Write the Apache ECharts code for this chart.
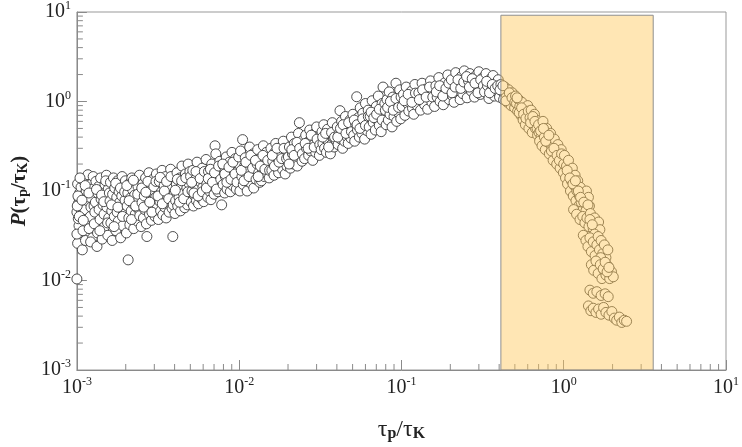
<!DOCTYPE html>
<html>
<head>
<meta charset="UTF-8" />
<title>P(tau_p/tau_K)</title>
<script src="https://cdn.jsdelivr.net/npm/echarts@6/dist/echarts.min.js"></script>
<style>
  body { margin: 0; background: #fff; }
  #main { width: 742px; height: 447px; }
</style>
</head>
<body>
<div id="main"></div>
<script>
// axis decades (log scale)
const xTicks = [1e-3, 1e-2, 1e-1, 1, 10];
const yTicks = [1e-3, 1e-2, 1e-1, 1, 10];
// shaded band: tau_p/tau_K range and its top
const shadeX = [0.41, 3.56];
const shadeY = [1e-3, 9.2];

// [tau_p/tau_K, P], left part of the cloud (tau_p/tau_K < 1e-2)
const samplesLow = [
  [1.00e-3,0.0104],[1.01e-3,0.026],[1.03e-3,0.041],[1.00e-3,0.058],[1.02e-3,0.072],[1.04e-3,0.095],[1.01e-3,0.12],[1.00e-3,0.033],[1.02e-3,0.049],[1.05e-3,0.064],[1.03e-3,0.083],[1.06e-3,0.11],
  [1.08e-3,0.022],[1.09e-3,0.036],[1.07e-3,0.054],[1.11e-3,0.07],[1.1e-3,0.09],[1.08e-3,0.135],[1.13e-3,0.028],[1.15e-3,0.045],[1.12e-3,0.062],[1.16e-3,0.078],[1.14e-3,0.1],[1.17e-3,0.152],
  [1.19e-3,0.038],[1.21e-3,0.052],[1.2e-3,0.085],[1.23e-3,0.12],[1.22e-3,0.066],[1.25e-3,0.03],[1.24e-3,0.105],[1.26e-3,0.145],
  [1.005e-3,0.068],[1.015e-3,0.088],[1.035e-3,0.052],[1.045e-3,0.14],[1.075e-3,0.079],[1.095e-3,0.047],[1.125e-3,0.115],[1.185e-3,0.095],[1.215e-3,0.027],[1.275e-3,0.068],
  [1.28e-3,0.043],[1.3e-3,0.075],[1.29e-3,0.058],[1.31e-3,0.128],[1.33e-3,0.024],[1.35e-3,0.094],[1.34e-3,0.034],[1.37e-3,0.062],[1.36e-3,0.112],[1.39e-3,0.048],[1.41e-3,0.081],[1.4e-3,0.14],
  [1.43e-3,0.029],[1.45e-3,0.07],[1.44e-3,0.098],[1.47e-3,0.055],[1.49e-3,0.118],[1.48e-3,0.04],[1.51e-3,0.086],[1.53e-3,0.066],[1.52e-3,0.15],[1.55e-3,0.032],[1.56e-3,0.105],[1.57e-3,0.05],
  [1.32e-3,0.104],[1.385e-3,0.036],[1.42e-3,0.09],[1.465e-3,0.076],[1.505e-3,0.13],[1.545e-3,0.044],[1.585e-3,0.095],
  [1.6e-3,0.077],[1.62e-3,0.044],[1.61e-3,0.125],[1.64e-3,0.06],[1.66e-3,0.092],[1.65e-3,0.028],[1.68e-3,0.14],[1.7e-3,0.052],[1.72e-3,0.07],[1.71e-3,0.108],[1.74e-3,0.036],[1.76e-3,0.085],
  [1.78e-3,0.13],[1.77e-3,0.058],[1.8e-3,0.046],[1.82e-3,0.098],[1.84e-3,0.075],[1.83e-3,0.118],[1.86e-3,0.03],[1.88e-3,0.064],[1.9e-3,0.145],[1.89e-3,0.088],[1.92e-3,0.041],[1.94e-3,0.11],
  [1.96e-3,0.055],[1.98e-3,0.079],[1.99e-3,0.13],
  [1.635e-3,0.07],[1.695e-3,0.04],[1.735e-3,0.122],[1.79e-3,0.066],[1.855e-3,0.108],[1.91e-3,0.052],[1.97e-3,0.098],
  [2.02e-3,0.034],[2.04e-3,0.068],[2.07e-3,0.017],[2.06e-3,0.095],[2.09e-3,0.05],[2.11e-3,0.122],[2.13e-3,0.083],[2.12e-3,0.042],[2.16e-3,0.06],[2.18e-3,0.14],[2.2e-3,0.104],[2.22e-3,0.072],
  [2.24e-3,0.038],[2.27e-3,0.09],[2.29e-3,0.055],[2.31e-3,0.128],[2.33e-3,0.066],[2.36e-3,0.046],[2.38e-3,0.112],[2.4e-3,0.08],[2.43e-3,0.15],[2.45e-3,0.058],[2.47e-3,0.097],[2.49e-3,0.04],
  [2.03e-3,0.115],[2.1e-3,0.078],[2.17e-3,0.048],[2.23e-3,0.132],[2.3e-3,0.068],[2.37e-3,0.092],[2.44e-3,0.053],
  [2.52e-3,0.074],[2.55e-3,0.12],[2.57e-3,0.05],[2.6e-3,0.088],[2.62e-3,0.062],[2.65e-3,0.14],[2.68e-3,0.043],[2.7e-3,0.031],[2.72e-3,0.105],[2.75e-3,0.07],[2.78e-3,0.16],[2.8e-3,0.055],
  [2.83e-3,0.092],[2.86e-3,0.118],[2.88e-3,0.047],[2.91e-3,0.078],[2.94e-3,0.135],[2.97e-3,0.063],[3.0e-3,0.1],[3.03e-3,0.052],[3.06e-3,0.085],[3.09e-3,0.155],[3.12e-3,0.07],[3.15e-3,0.112],
  [2.51e-3,0.108],[2.58e-3,0.066],[2.66e-3,0.097],[2.74e-3,0.128],[2.81e-3,0.075],[2.9e-3,0.058],[2.98e-3,0.112],[3.07e-3,0.128],
  [3.18e-3,0.048],[3.22e-3,0.128],[3.25e-3,0.076],[3.28e-3,0.06],[3.32e-3,0.098],[3.35e-3,0.17],[3.38e-3,0.054],[3.42e-3,0.084],[3.45e-3,0.115],[3.48e-3,0.066],[3.52e-3,0.145],[3.55e-3,0.05],
  [3.58e-3,0.09],[3.62e-3,0.072],[3.66e-3,0.125],[3.7e-3,0.058],[3.74e-3,0.105],[3.78e-3,0.175],[3.82e-3,0.08],[3.86e-3,0.064],[3.9e-3,0.031],[3.93e-3,0.138],[3.97e-3,0.095],
  [3.16e-3,0.088],[3.26e-3,0.142],[3.36e-3,0.072],[3.46e-3,0.1],[3.57e-3,0.128],[3.68e-3,0.082],[3.8e-3,0.145],[3.92e-3,0.07],
  [4.02e-3,0.056],[4.06e-3,0.078],[4.1e-3,0.118],[4.14e-3,0.16],[4.18e-3,0.068],[4.22e-3,0.1],[4.26e-3,0.085],[4.31e-3,0.14],[4.35e-3,0.06],[4.4e-3,0.112],[4.44e-3,0.19],[4.48e-3,0.074],
  [4.53e-3,0.094],[4.57e-3,0.13],[4.62e-3,0.065],[4.66e-3,0.155],[4.71e-3,0.082],[4.76e-3,0.108],[4.8e-3,0.07],[4.85e-3,0.2],[4.9e-3,0.122],[4.95e-3,0.09],
  [4.04e-3,0.102],[4.16e-3,0.135],[4.29e-3,0.075],[4.42e-3,0.13],[4.55e-3,0.082],[4.69e-3,0.14],[4.83e-3,0.098],[4.97e-3,0.165],
  [5.02e-3,0.145],[5.07e-3,0.075],[5.12e-3,0.1],[5.18e-3,0.17],[5.23e-3,0.068],[5.28e-3,0.118],[5.33e-3,0.088],[5.39e-3,0.135],[5.45e-3,0.078],[5.5e-3,0.21],[5.56e-3,0.104],[5.62e-3,0.072],
  [5.68e-3,0.158],[5.73e-3,0.092],[5.8e-3,0.125],[5.86e-3,0.082],[5.92e-3,0.18],[5.98e-3,0.11],[6.05e-3,0.076],[6.12e-3,0.145],[6.18e-3,0.095],[6.25e-3,0.225],
  [5.1e-3,0.125],[5.26e-3,0.095],[5.42e-3,0.165],[5.58e-3,0.088],[5.75e-3,0.138],[5.93e-3,0.098],[6.1e-3,0.165],
  [6.32e-3,0.12],[6.4e-3,0.085],[6.47e-3,0.165],[6.55e-3,0.1],[6.62e-3,0.135],[6.7e-3,0.08],[6.78e-3,0.2],[6.85e-3,0.112],[6.92e-3,0.15],[7.0e-3,0.092],[7.1e-3,0.32],[7.18e-3,0.26],
  [7.26e-3,0.125],[7.34e-3,0.175],[7.42e-3,0.098],[7.5e-3,0.14],[7.6e-3,0.215],[7.7e-3,0.108],[7.8e-3,0.07],[7.88e-3,0.16],
  [6.28e-3,0.108],[6.45e-3,0.138],[6.65e-3,0.175],[6.85e-3,0.125],[7.05e-3,0.16],[7.25e-3,0.105],[7.47e-3,0.19],[7.7e-3,0.135],
  [7.96e-3,0.118],[8.05e-3,0.19],[8.14e-3,0.095],[8.23e-3,0.145],[8.32e-3,0.24],[8.42e-3,0.105],[8.52e-3,0.17],[8.62e-3,0.128],[8.72e-3,0.21],[8.82e-3,0.098],[8.92e-3,0.155],[9.03e-3,0.27],
  [9.14e-3,0.115],[9.25e-3,0.185],[9.36e-3,0.135],[9.48e-3,0.23],[9.6e-3,0.105],[9.72e-3,0.165],[9.85e-3,0.125],[9.96e-3,0.2],
  [7.92e-3,0.2],[8.15e-3,0.155],[8.4e-3,0.125],[8.65e-3,0.185],[8.9e-3,0.135],[9.15e-3,0.21],[9.42e-3,0.155],[9.7e-3,0.125],[9.93e-3,0.24]
];

// middle part of the cloud (1e-2 to 0.4)
const samplesMid = [
  [1.01e-2,0.1],[1.02e-2,0.28],[1.04e-2,0.145],[1.05e-2,0.375],[1.06e-2,0.118],[1.08e-2,0.19],[1.09e-2,0.235],[1.11e-2,0.13],[1.12e-2,0.1],[1.14e-2,0.165],[1.16e-2,0.31],[1.17e-2,0.21],
  [1.19e-2,0.12],[1.2e-2,0.15],[1.22e-2,0.26],[1.23e-2,0.108],[1.25e-2,0.18],
  [1.03e-2,0.17],[1.07e-2,0.13],[1.1e-2,0.21],[1.15e-2,0.145],[1.18e-2,0.25],[1.21e-2,0.18],
  [1.27e-2,0.135],[1.29e-2,0.2],[1.3e-2,0.29],[1.32e-2,0.16],[1.34e-2,0.125],[1.36e-2,0.235],[1.37e-2,0.13],[1.39e-2,0.175],[1.41e-2,0.32],[1.43e-2,0.145],[1.45e-2,0.21],[1.47e-2,0.27],
  [1.49e-2,0.155],[1.51e-2,0.19],[1.53e-2,0.14],[1.55e-2,0.24],[1.57e-2,0.3],
  [1.26e-2,0.22],[1.31e-2,0.145],[1.35e-2,0.19],[1.4e-2,0.25],[1.44e-2,0.175],[1.5e-2,0.22],[1.54e-2,0.17],
  [1.59e-2,0.17],[1.61e-2,0.215],[1.64e-2,0.15],[1.66e-2,0.27],[1.68e-2,0.34],[1.7e-2,0.185],[1.73e-2,0.235],[1.75e-2,0.16],[1.77e-2,0.3],[1.8e-2,0.205],[1.82e-2,0.255],[1.85e-2,0.175],
  [1.87e-2,0.36],[1.9e-2,0.22],[1.92e-2,0.155],[1.95e-2,0.28],[1.97e-2,0.19],
  [1.6e-2,0.25],[1.65e-2,0.19],[1.71e-2,0.3],[1.76e-2,0.21],[1.83e-2,0.23],[1.89e-2,0.3],[1.96e-2,0.23],
  [2.01e-2,0.24],[2.04e-2,0.31],[2.07e-2,0.18],[2.1e-2,0.4],[2.13e-2,0.26],[2.16e-2,0.2],[2.19e-2,0.34],[2.22e-2,0.225],[2.25e-2,0.29],[2.28e-2,0.19],[2.32e-2,0.44],[2.35e-2,0.58],
  [2.38e-2,0.25],[2.41e-2,0.32],[2.44e-2,0.215],[2.47e-2,0.37],[2.5e-2,0.27],
  [2.03e-2,0.2],[2.11e-2,0.29],[2.18e-2,0.25],[2.27e-2,0.35],[2.36e-2,0.3],[2.45e-2,0.26],
  [2.53e-2,0.23],[2.57e-2,0.42],[2.6e-2,0.3],[2.64e-2,0.35],[2.68e-2,0.25],[2.72e-2,0.48],[2.76e-2,0.28],[2.8e-2,0.38],[2.84e-2,0.22],[2.88e-2,0.33],[2.92e-2,0.44],[2.96e-2,0.27],
  [3.0e-2,0.52],[3.04e-2,0.31],[3.08e-2,0.36],[3.12e-2,0.25],[3.15e-2,0.41],
  [2.55e-2,0.34],[2.66e-2,0.3],[2.78e-2,0.42],[2.9e-2,0.31],[3.02e-2,0.38],[3.14e-2,0.33],
  [3.2e-2,0.29],[3.24e-2,0.46],[3.28e-2,0.34],[3.32e-2,0.55],[3.36e-2,0.3],[3.4e-2,0.39],[3.45e-2,0.27],[3.5e-2,0.49],[3.55e-2,0.36],[3.6e-2,0.43],[3.65e-2,0.26],[3.7e-2,0.33],
  [3.75e-2,0.58],[3.8e-2,0.4],[3.85e-2,0.31],[3.9e-2,0.47],[3.95e-2,0.37],
  [3.27e-2,0.4],[3.41e-2,0.44],[3.56e-2,0.31],[3.71e-2,0.45],[3.87e-2,0.4],
  [4.02e-2,0.52],[4.07e-2,0.33],[4.12e-2,0.43],[4.18e-2,0.79],[4.23e-2,0.38],[4.28e-2,0.6],[4.34e-2,0.3],[4.4e-2,0.47],[4.46e-2,0.36],[4.52e-2,0.68],[4.58e-2,0.41],[4.64e-2,0.54],
  [4.7e-2,0.34],[4.76e-2,0.45],[4.82e-2,0.62],[4.88e-2,0.39],[4.95e-2,0.5],
  [4.05e-2,0.4],[4.21e-2,0.5],[4.37e-2,0.55],[4.55e-2,0.44],[4.73e-2,0.58],[4.92e-2,0.46],
  [5.02e-2,0.72],[5.08e-2,0.42],[5.15e-2,0.36],[5.22e-2,0.56],[5.3e-2,1.13],[5.36e-2,0.48],[5.43e-2,0.66],[5.5e-2,0.4],[5.57e-2,0.85],[5.64e-2,0.53],[5.71e-2,0.44],[5.78e-2,0.74],
  [5.86e-2,0.58],[5.93e-2,0.38],[6.0e-2,0.95],[6.08e-2,0.62],[6.16e-2,0.47],[6.24e-2,0.8],
  [5.12e-2,0.62],[5.33e-2,0.55],[5.55e-2,0.5],[5.77e-2,0.64],[6.0e-2,0.54],[6.25e-2,0.68],
  [6.33e-2,0.52],[6.42e-2,0.68],[6.5e-2,0.43],[6.6e-2,1.02],[6.7e-2,0.58],[6.8e-2,0.76],[6.9e-2,0.48],[7.0e-2,0.88],[7.1e-2,0.62],[7.2e-2,1.15],[7.3e-2,0.54],[7.4e-2,0.7],
  [7.5e-2,0.46],[7.6e-2,0.95],[7.7e-2,1.45],[7.8e-2,0.66],
  [6.5e-2,0.76],[6.76e-2,0.66],[7.03e-2,0.72],[7.31e-2,0.82],[7.6e-2,0.62],[7.9e-2,0.95],
  [7.95e-2,0.8],[8.05e-2,0.55],[8.15e-2,1.05],[8.3e-2,0.62],[8.4e-2,1.28],[8.5e-2,0.72],[8.6e-2,0.9],[8.75e-2,0.52],[8.85e-2,1.12],[9.0e-2,0.68],[9.1e-2,0.84],[9.25e-2,1.6],
  [9.35e-2,0.6],[9.5e-2,0.98],[9.6e-2,0.75],[9.75e-2,1.35],[9.9e-2,0.64],
  [8.22e-2,0.86],[8.55e-2,1.0],[8.9e-2,0.8],[9.25e-2,1.08],[9.6e-2,0.86],[9.95e-2,1.12],
  [0.101,0.88],[0.103,1.2],[0.105,0.7],[0.107,1.45],[0.109,0.95],[0.111,0.78],[0.113,1.1],[0.115,1.3],[0.117,0.84],[0.119,0.72],[0.121,1.55],[0.123,1.02],[0.125,0.9],
  [0.104,1.02],[0.11,1.2],[0.116,0.98],[0.122,1.24],
  [0.128,1.25],[0.131,0.8],[0.134,1.6],[0.136,1.08],[0.139,0.92],[0.142,1.38],[0.145,0.82],[0.148,1.18],[0.151,1.7],[0.154,0.98],[0.157,1.3],
  [0.129,1.05],[0.135,1.35],[0.142,1.12],[0.149,1.45],[0.156,1.12],
  [0.16,0.88],[0.163,1.5],[0.166,1.12],[0.17,1.85],[0.173,1.0],[0.177,1.3],[0.181,0.92],[0.185,1.62],[0.189,1.18],[0.193,1.98],[0.197,1.05],[0.2,1.4],
  [0.164,1.28],[0.172,1.5],[0.18,1.15],[0.188,1.4],[0.196,1.6],
  [0.203,1.75],[0.207,1.15],[0.211,0.98],[0.216,2.1],[0.22,1.32],[0.225,1.55],[0.23,1.05],[0.234,1.9],[0.239,1.22],[0.244,2.2],[0.249,1.45],
  [0.205,1.25],[0.214,1.45],[0.223,1.75],[0.232,1.4],[0.242,1.65],
  [0.254,1.1],[0.259,1.7],[0.264,2.05],[0.27,1.3],[0.276,1.55],[0.282,1.12],[0.288,1.95],[0.294,1.4],[0.3,2.15],[0.306,1.2],[0.312,1.65],[0.318,1.85],
  [0.252,1.9],[0.262,1.45],[0.273,1.8],[0.284,1.6],[0.296,1.25],[0.308,1.75],[0.32,1.5],
  [0.325,1.28],[0.332,2.05],[0.339,1.5],[0.346,1.08],[0.353,1.78],[0.36,1.35],[0.367,1.95],[0.374,1.15],[0.381,1.6],[0.388,1.3],[0.395,1.75],
  [0.335,1.68],[0.349,1.25],[0.363,1.55],[0.378,1.4],[0.392,1.5]
];

// fall-off inside the shaded band (tau_p/tau_K > 0.4)
const samplesHigh = [
  [0.402,1.12],[0.41,1.55],[0.418,1.3],[0.426,1.05],[0.434,1.45],[0.442,1.2],[0.45,0.98],[0.458,1.35],[0.466,1.1],[0.474,0.9],[0.482,1.25],[0.49,1.02],[0.498,0.85],
  [0.405,1.35],[0.422,1.5],[0.44,1.02],[0.462,1.25],[0.48,1.1],[0.5,0.98],
  [0.505,1.15],[0.512,0.95],[0.52,0.78],[0.528,1.05],[0.536,0.88],[0.545,0.7],[0.553,0.98],[0.562,0.62],[0.57,0.82],[0.58,0.55],[0.59,0.74],[0.6,0.9],
  [0.516,1.1],[0.532,0.75],[0.55,0.85],[0.566,0.72],[0.585,0.65],[0.605,0.78],
  [0.61,0.5],[0.62,0.66],[0.63,0.8],[0.64,0.45],[0.65,0.58],[0.66,0.72],[0.67,0.5],[0.68,0.62],[0.69,0.42],
  [0.625,0.58],[0.645,0.68],[0.665,0.6],[0.685,0.5],[0.705,0.45],[0.725,0.4],
  [0.7,0.55],[0.71,0.36],[0.72,0.47],[0.735,0.32],[0.745,0.6],[0.76,0.4],[0.77,0.29],[0.785,0.5],[0.8,0.35],[0.815,0.26],[0.83,0.44],[0.845,0.31],
  [0.86,0.22],[0.875,0.38],[0.89,0.27],[0.905,0.2],[0.92,0.33],[0.935,0.24],[0.95,0.18],[0.965,0.29],[0.98,0.21],[0.995,0.16],
  [0.75,0.5],[0.775,0.36],[0.81,0.42],[0.84,0.28],[0.87,0.3],[0.91,0.25],[0.94,0.22],[0.97,0.26],[1.0,0.2],
  [1.01,0.25],[1.025,0.14],[1.04,0.19],[1.055,0.12],[1.07,0.22],[1.085,0.16],[1.1,0.1],[1.115,0.13],[1.13,0.18],[1.145,0.088],[1.16,0.115],[1.175,0.15],
  [1.19,0.078],[1.205,0.1],[1.22,0.13],[1.235,0.068],[1.25,0.088],[1.265,0.11],[1.28,0.075],[1.3,0.095],[1.32,0.062],[1.34,0.082],[1.36,0.07],[1.38,0.1],
  [1.4,0.058],[1.42,0.085],[1.44,0.068],
  [1.05,0.17],[1.09,0.14],[1.14,0.12],[1.18,0.13],[1.23,0.1],[1.27,0.085],[1.33,0.075],[1.37,0.06],[1.41,0.07],
  [1.15,0.062],[1.2,0.055],[1.26,0.048],[1.31,0.052],[1.35,0.044],[1.39,0.05],[1.43,0.04],[1.46,0.056],[1.49,0.046],[1.52,0.038],[1.55,0.05],[1.58,0.042],
  [1.61,0.034],[1.64,0.045],[1.67,0.037],[1.45,0.048],[1.5,0.042],[1.55,0.033],[1.59,0.029],[1.65,0.026],
  [1.32,0.032],[1.37,0.028],[1.41,0.024],[1.45,0.03],[1.48,0.021],[1.52,0.027],[1.56,0.019],[1.6,0.025],[1.63,0.031],[1.66,0.022],[1.7,0.028],[1.74,0.02],
  [1.78,0.025],[1.82,0.018],[1.87,0.022],[1.69,0.018],
  [1.48,0.015],[1.53,0.013],[1.58,0.0165],[1.63,0.012],[1.68,0.015],[1.72,0.0105],[1.77,0.013],[1.82,0.0115],[1.87,0.0145],[1.92,0.0105],[1.97,0.0125],[2.02,0.011],
  [1.75,0.0135],[1.8,0.016],[1.85,0.0125],[1.9,0.014],
  [1.45,0.0078],[1.52,0.0072],[1.6,0.0075],[1.7,0.0068],[1.8,0.0071],[1.88,0.0066],
  [1.42,0.0052],[1.47,0.0046],[1.52,0.0049],[1.58,0.0044],[1.64,0.0048],[1.7,0.0042],[1.76,0.005],[1.82,0.0044],[1.9,0.0041],[1.98,0.0045],[2.05,0.0038],[2.12,0.0036],
  [2.2,0.0039],[2.28,0.0034],[2.36,0.0036],[2.44,0.0035]
];

const serif = '"Liberation Serif", "DejaVu Serif", serif';
const axisGray = '#8a8a8a';

function powLabel(v) {
  return '{b|10}{s|' + Math.round(Math.log10(v)) + '}';
}
const labelRich = {
  b: { fontFamily: serif, fontSize: 20, color: '#222', lineHeight: 24 },
  s: { fontFamily: serif, fontSize: 12, color: '#222', verticalAlign: 'top', lineHeight: 13 }
};

let chart = echarts.init(document.getElementById('main'));

chart.setOption({
  animation: false,
  backgroundColor: '#fff',
  grid: { left: 73, right: 11, top: 10, bottom: 75, show: true, borderColor: '#999', borderWidth: 1 },
  xAxis: {
    type: 'log', logBase: 10, min: xTicks[0], max: xTicks[xTicks.length - 1],
    axisLine: { lineStyle: { color: axisGray } },
    axisTick: { inside: true, length: 10, lineStyle: { color: axisGray } },
    splitLine: { show: false },
    axisLabel: { formatter: powLabel, rich: labelRich, margin: 6 },
    name: '{t|τ}{u|p}{t|/τ}{u|K}',
    nameLocation: 'middle', nameGap: 48,
    nameTextStyle: {
      rich: {
        t: { fontFamily: serif, fontSize: 24, color: '#222' },
        u: { fontFamily: serif, fontSize: 16, fontWeight: 'bold', color: '#222', verticalAlign: 'bottom', lineHeight: 16, padding: [9, 0, 0, 0] }
      }
    }
  },
  yAxis: {
    type: 'log', logBase: 10, min: yTicks[0], max: yTicks[yTicks.length - 1],
    axisLine: { lineStyle: { color: axisGray } },
    axisTick: { inside: true, length: 10, lineStyle: { color: axisGray } },
    splitLine: { show: false },
    axisLabel: { formatter: powLabel, rich: labelRich, margin: 6 },
    name: '{i|P}{b|(τ}{u|p}{b|/τ}{u|K}{b|)}',
    nameLocation: 'middle', nameGap: 44, nameRotate: 90,
    nameTextStyle: {
      rich: {
        i: { fontFamily: serif, fontSize: 21, fontWeight: 'bold', fontStyle: 'italic', color: '#222' },
        b: { fontFamily: serif, fontSize: 21, fontWeight: 'bold', color: '#222' },
        u: { fontFamily: serif, fontSize: 14, fontWeight: 'bold', color: '#222', verticalAlign: 'bottom', lineHeight: 13, padding: [8, 0, 0, 0] }
      }
    }
  },
  series: [
    {
      type: 'scatter',
      data: samplesLow.concat(samplesMid, samplesHigh),
      symbol: 'circle',
      symbolSize: 10,
      z: 2,
      itemStyle: { color: '#fff', borderColor: '#3a3a3a', borderWidth: 0.9, opacity: 1 }
    },
    {
      // translucent band drawn over the points
      type: 'custom',
      z: 10,
      silent: true,
      data: [[shadeX[0], shadeY[0], shadeX[1], shadeY[1]]],
      encode: { x: [0, 2], y: [1, 3] },
      renderItem: function (params, api) {
        const p0 = api.coord([api.value(0), api.value(1)]);
        const p1 = api.coord([api.value(2), api.value(3)]);
        return {
          type: 'rect',
          shape: { x: p0[0], y: p1[1], width: p1[0] - p0[0], height: p0[1] - p1[1] },
          style: { fill: 'rgba(255, 199, 88, 0.45)', stroke: '#8f8f8f', lineWidth: 1 }
        };
      }
    }
  ]
});

// minor ticks at 2..9 within each decade, placed through the axis scales
const minorLines = [];
const x0 = chart.convertToPixel({ xAxisIndex: 0 }, xTicks[0]);
const y0 = chart.convertToPixel({ yAxisIndex: 0 }, yTicks[0]);
for (let d = 0; d < xTicks.length - 1; d++) {
  for (let m = 2; m <= 9; m++) {
    const px = chart.convertToPixel({ xAxisIndex: 0 }, xTicks[d] * m);
    minorLines.push({ type: 'line', shape: { x1: px, y1: y0, x2: px, y2: y0 - 6 }, style: { stroke: axisGray, lineWidth: 1 }, silent: true });
  }
}
for (let d = 0; d < yTicks.length - 1; d++) {
  for (let m = 2; m <= 9; m++) {
    const py = chart.convertToPixel({ yAxisIndex: 0 }, yTicks[d] * m);
    minorLines.push({ type: 'line', shape: { x1: x0, y1: py, x2: x0 + 6, y2: py }, style: { stroke: axisGray, lineWidth: 1 }, silent: true });
  }
}
chart.setOption({ graphic: minorLines });
</script>
</body>
</html>
